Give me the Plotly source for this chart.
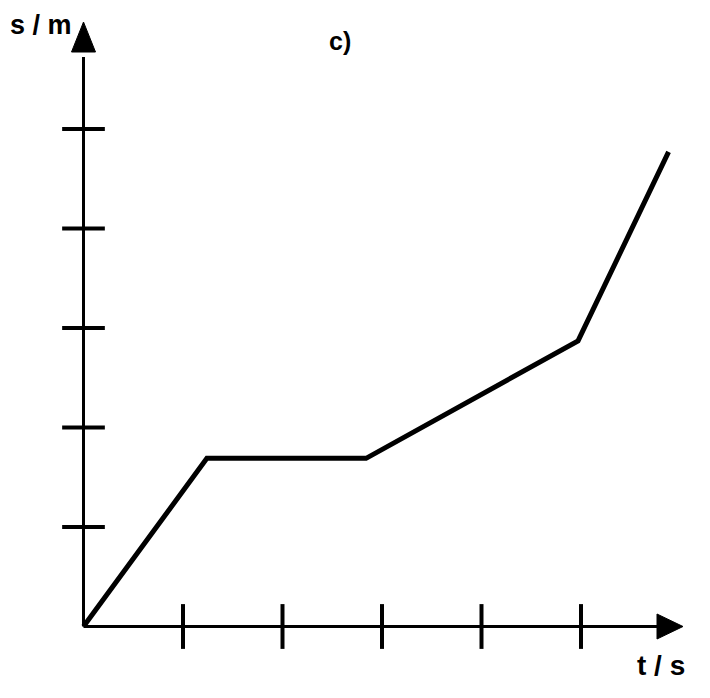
import plotly.graph_objects as go

# Data (arbitrary units: one tick = 1)
t_vals = [0, 1.24, 2.84, 4.97, 5.88]
s_vals = [0, 1.69, 1.69, 2.87, 4.77]
x_ticks = [1, 2, 3, 4, 5]
y_ticks = [1, 2, 3, 4, 5]
x_label = "t / s"
y_label = "s / m"
title = "c)"

# the page body adds an 8px margin, so work in shifted pixel coordinates
OFF = 8
W, H = 710 - OFF, 698 - OFF
px0, py0, scale = 83.5 - OFF, 626.5 - OFF, 99.5
x_range = [-px0 / scale, (W - px0) / scale]
y_range = [-(H - py0) / scale, py0 / scale]

x_tip = (683 - OFF - px0) / scale
x_base = (657 - OFF - px0) / scale
y_tip = (py0 - (22 - OFF)) / scale
y_base = (py0 - (52 - OFF)) / scale
hw = 12.5 / scale


def px(x):
    return (x - OFF) / W


def py(y):
    return 1 - (y - OFF) / H


fig = go.Figure()

# axis lines
fig.add_shape(type="line", x0=0, y0=0, x1=x_base + 0.05, y1=0, xref="x", yref="y",
              line=dict(color="black", width=3))
fig.add_shape(type="line", x0=0, y0=0, x1=0, y1=y_base - 0.05, xref="x", yref="y",
              line=dict(color="black", width=3))
# arrowheads
fig.add_shape(type="path", xref="x", yref="y",
              path=f"M {x_tip},0 L {x_base},{hw} L {x_base},{-hw} Z",
              fillcolor="black", line=dict(color="black", width=1))
fig.add_shape(type="path", xref="x", yref="y",
              path=f"M 0,{y_tip} L {hw*0.96},{y_base} L {-hw*0.96},{y_base} Z",
              fillcolor="black", line=dict(color="black", width=1))

# tick marks (plotly line symbols are 1.4 x size long)
fig.add_trace(go.Scatter(x=x_ticks, y=[0] * len(x_ticks), mode="markers",
                         marker=dict(symbol="line-ns", size=32,
                                     line=dict(color="black", width=4)),
                         hoverinfo="skip", showlegend=False))
fig.add_trace(go.Scatter(x=[0] * len(y_ticks), y=y_ticks, mode="markers",
                         marker=dict(symbol="line-ew", size=30.5,
                                     line=dict(color="black", width=4)),
                         hoverinfo="skip", showlegend=False))

# data line
fig.add_trace(go.Scatter(x=t_vals, y=s_vals, mode="lines",
                         line=dict(color="black", width=5),
                         showlegend=False))

font_family = "Liberation Sans, Arial, sans-serif"
fig.add_annotation(x=px(40.5), y=py(25), xref="paper", yref="paper",
                   text=f"<b>{y_label}</b>", showarrow=False,
                   xanchor="center", yanchor="middle",
                   font=dict(family=font_family, size=27, color="black"))
fig.add_annotation(x=px(661), y=py(665), xref="paper", yref="paper",
                   text=f"<b>{x_label}</b>", showarrow=False,
                   xanchor="center", yanchor="middle",
                   font=dict(family=font_family, size=28, color="black"))
fig.add_annotation(x=px(340), y=py(41), xref="paper", yref="paper",
                   text=f"<b>{title}</b>", showarrow=False,
                   xanchor="center", yanchor="middle",
                   font=dict(family=font_family, size=25, color="black"))

fig.update_layout(
    width=W, height=H,
    margin=dict(l=0, r=0, t=0, b=0),
    paper_bgcolor="white", plot_bgcolor="white",
    xaxis=dict(range=x_range, visible=False, fixedrange=True),
    yaxis=dict(range=y_range, visible=False, fixedrange=True),
)

fig.write_html("out.html")
